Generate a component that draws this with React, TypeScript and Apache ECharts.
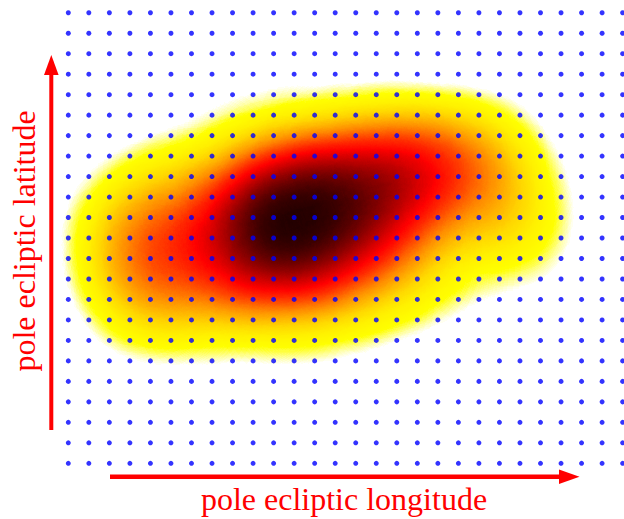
import React, { useEffect, useRef } from 'react';
import * as echarts from 'echarts';

// lattice of sample positions (column / row indices of the blue dot grid)
const lonTicks = [0, 1, 2, 3, 4, 5, 6, 7, 8, 9, 10, 11, 12, 13, 14, 15, 16, 17, 18, 19, 20, 21, 22, 23, 24, 25, 26, 27];
const latTicks = [0, 1, 2, 3, 4, 5, 6, 7, 8, 9, 10, 11, 12, 13, 14, 15, 16, 17, 18, 19, 20, 21, 22];

// density sources (lattice units) and their weights
const blobLon = [11, 10.5, 12.5, 9, 14, 16, 18, 20.5, 21.5, 6.5, 4, 3, 4.5, 8.5, 12.5, 17, 10, 14, 3, 6, 15];
const blobLat = [12, 11.5, 12.5, 11.5, 13, 13.8, 14.5, 14.5, 11.5, 11, 10.5, 12, 8, 8.5, 8.5, 9.5, 15.5, 16, 9, 14, 10.5];
const blobWeight = [1.0, 1.0, 0.9, 0.8, 0.8, 0.8, 0.6, 0.4, 0.35, 0.5, 0.35, 0.3, 0.35, 0.5, 0.5, 0.3, 0.3, 0.2, 0.2, 0.25, 0.35];

const heatColors = [
  '#ffffff', '#ffffff', '#ffff00', '#fff000', '#ffd800', '#ffb400', '#ff8c00', '#ff5a00',
  '#ff2800', '#ff0000', '#d20000', '#a00000', '#6e0000', '#3c0000', '#140000', '#000000',
];

const xLabel = 'pole ecliptic longitude';
const yLabel = 'pole ecliptic latitude';

// extent of the frame in lattice units (covers the whole canvas)
const frameLon = [-3.327, 27.067];
const frameLat = [-2.72, 22.622];

echarts.registerMap('frame', {
  type: 'FeatureCollection',
  features: [
    {
      type: 'Feature',
      properties: { name: 'frame' },
      geometry: {
        type: 'Polygon',
        coordinates: [[
          [frameLon[0], frameLat[0]],
          [frameLon[1], frameLat[0]],
          [frameLon[1], frameLat[1]],
          [frameLon[0], frameLat[1]],
          [frameLon[0], frameLat[0]],
        ]],
      },
    },
  ],
} as any);

export default function App() {
  const ref = useRef<HTMLDivElement>(null);
  useEffect(() => {
    document.body.style.margin = '0';
    const chart = echarts.init(ref.current!, undefined, { renderer: 'svg' });
    const heatData = blobLon.map((x, i) => [x, blobLat[i], blobWeight[i]]);
    const dots: number[][] = [];
    latTicks.forEach((la) => lonTicks.forEach((lo) => dots.push([lo, la])));
    const red = '#ff0000';
    chart.setOption({
      animation: false,
      geo: {
        map: 'frame',
        left: 0,
        top: 0,
        width: 624,
        height: 519,
        aspectScale: 1,
        roam: false,
        silent: true,
        label: { show: false },
        itemStyle: { areaColor: 'rgba(0,0,0,0)', borderColor: 'rgba(0,0,0,0)', borderWidth: 0 },
        emphasis: { disabled: true },
        select: { disabled: true },
      },
      visualMap: {
        type: 'continuous',
        show: false,
        min: 0,
        max: 1,
        seriesIndex: 0,
        inRange: { color: heatColors },
      },
      series: [
        {
          type: 'heatmap',
          coordinateSystem: 'geo',
          data: heatData,
          pointSize: 45,
          blurSize: 75,
          minOpacity: 1,
          maxOpacity: 1,
          z: 1,
          silent: true,
        },
        {
          type: 'scatter',
          coordinateSystem: 'geo',
          data: dots,
          symbol: 'circle',
          symbolSize: 5,
          itemStyle: { color: '#0000ff' },
          z: 3,
          silent: true,
        },
      ],
      graphic: [
        { type: 'line', z: 10, shape: { x1: 51.3, y1: 430, x2: 51.3, y2: 70 }, style: { stroke: red, lineWidth: 4 } },
        { type: 'polygon', z: 10, shape: { points: [[51.3, 55], [44, 75], [58.6, 75]] }, style: { fill: red } },
        { type: 'line', z: 10, shape: { x1: 110, y1: 476.7, x2: 565, y2: 476.7 }, style: { stroke: red, lineWidth: 4.5 } },
        { type: 'polygon', z: 10, shape: { points: [[579.5, 476.7], [559, 469.5], [559, 484]] }, style: { fill: red } },
        {
          type: 'text', z: 10, x: 344, y: 499,
          style: { text: xLabel, fill: red, font: '32px "Liberation Serif"', align: 'center', verticalAlign: 'middle' },
        },
        {
          type: 'text', z: 10, x: 24, y: 241, rotation: Math.PI / 2,
          style: { text: yLabel, fill: red, font: '32px "Liberation Serif"', align: 'center', verticalAlign: 'middle' },
        },
      ],
    });
    return () => chart.dispose();
  }, []);
  return <div ref={ref} style={{ width: 624, height: 519 }} />;
}
